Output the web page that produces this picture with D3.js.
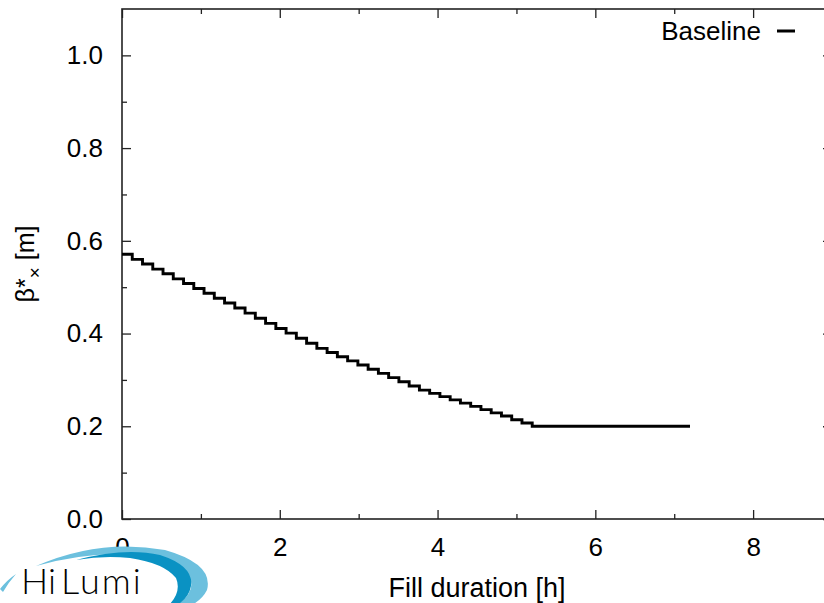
<!DOCTYPE html>
<html>
<head>
<meta charset="utf-8">
<script src="https://cdn.jsdelivr.net/npm/d3@7/dist/d3.min.js"></script>
<style>
  html, body { margin: 0; padding: 0; background: #fff; }
  svg { display: block; }
  text { font-family: "Liberation Sans", Arial, Helvetica, sans-serif; fill: #000; }
</style>
</head>
<body>
<svg id="chart" width="824" height="603"></svg>
<script>
// ---- data ----
const timeH = [0.00, 0.13, 0.26, 0.39, 0.52, 0.65, 0.78, 0.91, 1.04, 1.17,
               1.30, 1.43, 1.56, 1.69, 1.82, 1.95, 2.08, 2.21, 2.34, 2.47,
               2.60, 2.73, 2.86, 2.99, 3.12, 3.25, 3.38, 3.51, 3.64, 3.77,
               3.90, 4.03, 4.16, 4.29, 4.42, 4.55, 4.68, 4.81, 4.94, 5.07,
               5.20, 7.20];
const betaX = [0.571, 0.560, 0.550, 0.539, 0.529, 0.518, 0.508, 0.497, 0.487, 0.476,
               0.466, 0.455, 0.444, 0.433, 0.422, 0.411, 0.401, 0.390, 0.379, 0.368,
               0.359, 0.350, 0.341, 0.332, 0.323, 0.314, 0.305, 0.296, 0.287, 0.278,
               0.271, 0.264, 0.257, 0.250, 0.243, 0.236, 0.229, 0.222, 0.214, 0.207,
               0.200, 0.200];
const seriesName = "Baseline";
const xMajorTicks = [0, 2, 4, 6, 8];
const xMinorTicks = [1, 3, 5, 7];
const yMajorTicks = [0.0, 0.2, 0.4, 0.6, 0.8, 1.0];
const yMinorTicks = [0.1, 0.3, 0.5, 0.7, 0.9];
const xLabel = "Fill duration [h]";

// ---- layout ----
const svg = d3.select("#chart");
const L = 122, R = 832, T = 9, B = 519;
const x = d3.scaleLinear().domain([0, 9]).range([L, R]);
const y = d3.scaleLinear().domain([0, 1.1]).range([B, T]);
const majorLen = 9, minorLen = 5;
const fs = 26;

function styleAxis(g) {
  g.select(".domain").remove();
  g.selectAll(".tick line").attr("stroke", "#222").attr("stroke-width", 1.3);
  g.selectAll(".tick text").style("font-size", fs + "px")
    .style("font-family", '"Liberation Sans", Arial, sans-serif').attr("fill", "#000");
}

// bottom axis
svg.append("g").attr("transform", `translate(0,${B})`)
  .call(d3.axisBottom(x).tickValues(xMajorTicks).tickSizeInner(-majorLen).tickSizeOuter(0)
        .tickPadding(19).tickFormat(d3.format("d")))
  .call(styleAxis);
svg.append("g").attr("transform", `translate(0,${B})`)
  .call(d3.axisBottom(x).tickValues(xMinorTicks).tickSizeInner(-minorLen).tickSizeOuter(0).tickFormat(""))
  .call(styleAxis);
// top mirror
svg.append("g").attr("transform", `translate(0,${T})`)
  .call(d3.axisTop(x).tickValues(xMajorTicks).tickSizeInner(-majorLen).tickSizeOuter(0).tickFormat(""))
  .call(styleAxis);
svg.append("g").attr("transform", `translate(0,${T})`)
  .call(d3.axisTop(x).tickValues(xMinorTicks).tickSizeInner(-minorLen).tickSizeOuter(0).tickFormat(""))
  .call(styleAxis);
// left axis
svg.append("g").attr("transform", `translate(${L},0)`)
  .call(d3.axisLeft(y).tickValues(yMajorTicks).tickSizeInner(-majorLen).tickSizeOuter(0)
        .tickPadding(19).tickFormat(d3.format(".1f")))
  .call(styleAxis);
svg.append("g").attr("transform", `translate(${L},0)`)
  .call(d3.axisLeft(y).tickValues(yMinorTicks).tickSizeInner(-minorLen).tickSizeOuter(0).tickFormat(""))
  .call(styleAxis);
// right mirror
svg.append("g").attr("transform", `translate(${R},0)`)
  .call(d3.axisRight(y).tickValues(yMajorTicks).tickSizeInner(-majorLen).tickSizeOuter(0).tickFormat(""))
  .call(styleAxis);
svg.append("g").attr("transform", `translate(${R},0)`)
  .call(d3.axisRight(y).tickValues(yMinorTicks).tickSizeInner(-minorLen).tickSizeOuter(0).tickFormat(""))
  .call(styleAxis);

// frame
svg.append("rect").attr("x", L).attr("y", T).attr("width", R - L).attr("height", B - T)
  .attr("fill", "none").attr("stroke", "#222").attr("stroke-width", 1.6);

// series (gnuplot "steps")
const pts = timeH.map((t, i) => [t, betaX[i]]);
svg.append("path").datum(pts)
  .attr("fill", "none").attr("stroke", "#000").attr("stroke-width", 2.9)
  .attr("d", d3.line().x(d => x(d[0])).y(d => y(d[1])).curve(d3.curveStepAfter));

// legend
svg.append("text").attr("x", 761).attr("y", 40).attr("text-anchor", "end")
  .style("font-size", fs + "px").text(seriesName);
svg.append("line").attr("x1", 777).attr("x2", 795).attr("y1", 31).attr("y2", 31)
  .attr("stroke", "#000").attr("stroke-width", 3);

// axis titles
svg.append("text").attr("x", 477).attr("y", 597).attr("text-anchor", "middle")
  .style("font-size", "27px").text(xLabel);
const yl = svg.append("text").attr("transform", "translate(34,264) rotate(-90)")
  .attr("text-anchor", "middle").style("font-size", "25px");
yl.append("tspan").text("β*");
yl.append("tspan").attr("dy", 7).style("font-size", "19px").text("×");
yl.append("tspan").attr("dy", -7).text(" [m]");

// HiLumi logo (decorative, bottom-left)
const logo = svg.append("g");
logo.append("path")
  .attr("d", "M36,566 Q100,538 165,550 Q214,564 207,590 Q202,600 190,606 L176,606 Q196,592 190,578 Q178,562 140,556 Q95,550 36,566 Z")
  .attr("fill", "#6cc0de");
logo.append("path")
  .attr("d", "M76,560 Q125,547 160,555 Q194,566 191,586 Q189,598 176,606 L168,606 Q182,592 176,578 Q164,563 130,558 Q104,555 76,560 Z")
  .attr("fill", "#0a92c3");
logo.append("path")
  .attr("d", "M0,589 Q7,580 16,574 Q8,583 3,592 Z")
  .attr("fill", "#6cc0de");
logo.append("text").attr("x", 21).attr("y", 594)
  .style("font-family", "Lato, 'Open Sans', sans-serif").style("font-weight", 300)
  .style("font-size", "36px").attr("fill", "#444").text("Hi");
logo.append("text").attr("x", 61).attr("y", 594)
  .style("font-family", "Lato, 'Open Sans', sans-serif").style("font-weight", 300)
  .style("font-size", "36px").style("letter-spacing", "2px").attr("fill", "#2ba5d5").text("Lumi");
</script>
</body>
</html>
